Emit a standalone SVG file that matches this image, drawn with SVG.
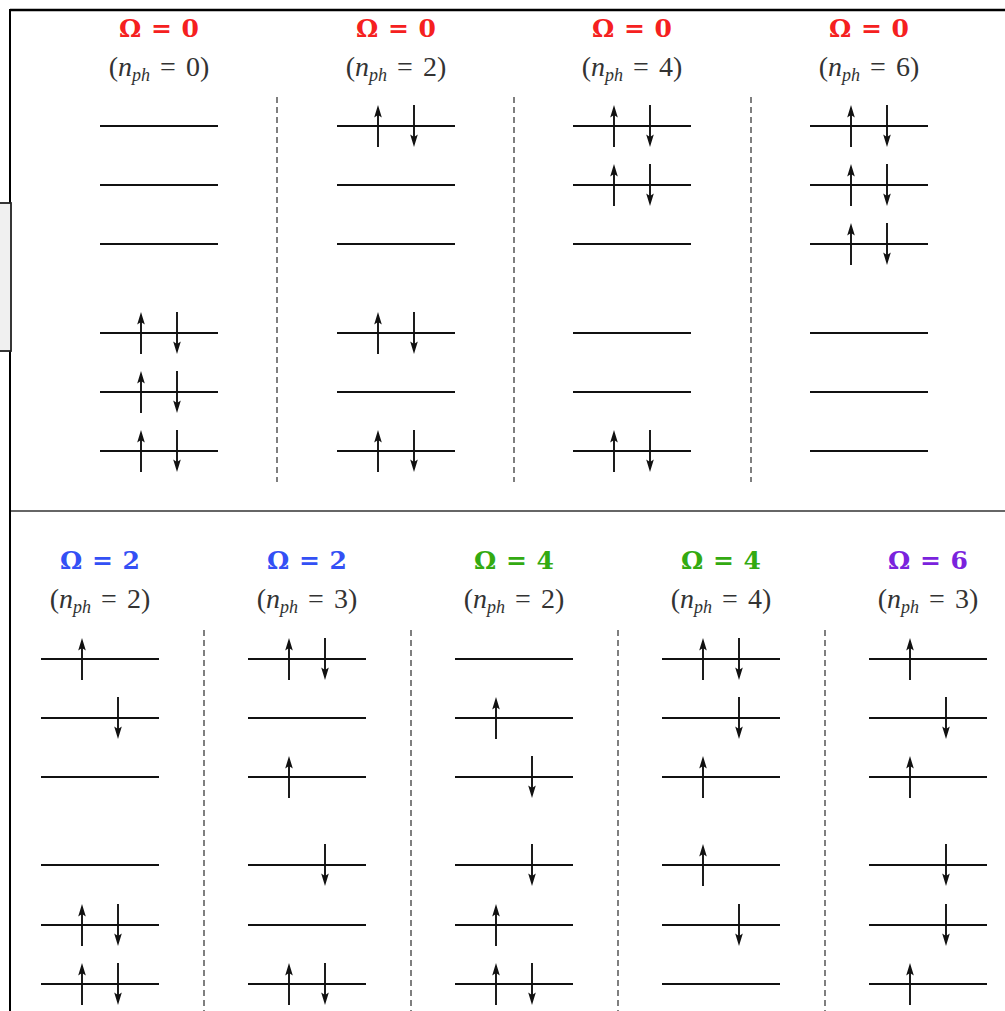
<svg xmlns="http://www.w3.org/2000/svg" xmlns:xlink="http://www.w3.org/1999/xlink" width="1005" height="1011" viewBox="0 0 1005 1011">
<style>
.lv{stroke:#111;stroke-width:2;fill:none}
.ar{stroke:#111;stroke-width:1.9;fill:none}
.hd{fill:#111;stroke:none}
.dv{stroke:#555;stroke-width:1.5;stroke-dasharray:6 4;fill:none}
.om{font-family:"DejaVu Serif","Liberation Serif",serif;font-weight:bold;font-size:25px;text-anchor:middle;word-spacing:1px}
.np{font-family:"Liberation Serif","DejaVu Serif",serif;font-size:28px;fill:#333;text-anchor:middle}
.it{font-style:italic}
.sb{font-style:italic;font-size:18px}
.red{fill:#f52020}.blue{fill:#3350f5}.green{fill:#33aa11}.purple{fill:#7a22dd}
</style>
<defs>
<g id="up"><line class="ar" x1="0" y1="21" x2="0" y2="-12"/><path class="hd" d="M0,-21 L-3.8,-8.5 L0,-11 L3.8,-8.5 Z"/></g>
<g id="dn"><line class="ar" x1="0" y1="-21" x2="0" y2="12"/><path class="hd" d="M0,21 L-3.8,8.5 L0,11 L3.8,8.5 Z"/></g>
<line id="lvl" class="lv" x1="-59" y1="0" x2="59" y2="0"/>
</defs>
<rect x="0" y="0" width="1005" height="1011" fill="#fff"/>
<g id="frame">
<line x1="10" y1="10" x2="1005" y2="10" stroke="#000" stroke-width="2.5"/>
<line x1="10" y1="9" x2="10" y2="1011" stroke="#000" stroke-width="2"/>
<rect x="-2" y="203" width="13" height="148" fill="#f0f0f0" stroke="#222" stroke-width="1.8"/>
<line x1="11" y1="511" x2="1005" y2="511" stroke="#666" stroke-width="2"/>
</g>
<g id="connectors">
<line class="dv" x1="277" y1="97" x2="277" y2="482"/>
<line class="dv" x1="514" y1="97" x2="514" y2="482"/>
<line class="dv" x1="751" y1="97" x2="751" y2="482"/>
<line class="dv" x1="204" y1="630" x2="204" y2="1011"/>
<line class="dv" x1="411" y1="630" x2="411" y2="1011"/>
<line class="dv" x1="618" y1="630" x2="618" y2="1011"/>
<line class="dv" x1="825" y1="630" x2="825" y2="1011"/>
</g>
<!-- top row -->
<g id="t1">
<text class="om red" x="159" y="37">Ω = 0</text>
<text class="np" x="159" y="76">(<tspan class="it">n</tspan><tspan class="sb" dy="5">ph</tspan><tspan dy="-5" dx="10">=</tspan><tspan dx="10">0)</tspan></text>
<use xlink:href="#lvl" x="159" y="126"/><use xlink:href="#lvl" x="159" y="185"/><use xlink:href="#lvl" x="159" y="244"/>
<use xlink:href="#lvl" x="159" y="333"/><use xlink:href="#lvl" x="159" y="392"/><use xlink:href="#lvl" x="159" y="451"/>
<use xlink:href="#up" x="141" y="333"/><use xlink:href="#dn" x="177" y="333"/>
<use xlink:href="#up" x="141" y="392"/><use xlink:href="#dn" x="177" y="392"/>
<use xlink:href="#up" x="141" y="451"/><use xlink:href="#dn" x="177" y="451"/>
</g>
<g id="t2">
<text class="om red" x="396" y="37">Ω = 0</text>
<text class="np" x="396" y="76">(<tspan class="it">n</tspan><tspan class="sb" dy="5">ph</tspan><tspan dy="-5" dx="10">=</tspan><tspan dx="10">2)</tspan></text>
<use xlink:href="#lvl" x="396" y="126"/><use xlink:href="#lvl" x="396" y="185"/><use xlink:href="#lvl" x="396" y="244"/>
<use xlink:href="#lvl" x="396" y="333"/><use xlink:href="#lvl" x="396" y="392"/><use xlink:href="#lvl" x="396" y="451"/>
<use xlink:href="#up" x="378" y="126"/><use xlink:href="#dn" x="414" y="126"/>
<use xlink:href="#up" x="378" y="333"/><use xlink:href="#dn" x="414" y="333"/>
<use xlink:href="#up" x="378" y="451"/><use xlink:href="#dn" x="414" y="451"/>
</g>
<g id="t3">
<text class="om red" x="632" y="37">Ω = 0</text>
<text class="np" x="632" y="76">(<tspan class="it">n</tspan><tspan class="sb" dy="5">ph</tspan><tspan dy="-5" dx="10">=</tspan><tspan dx="10">4)</tspan></text>
<use xlink:href="#lvl" x="632" y="126"/><use xlink:href="#lvl" x="632" y="185"/><use xlink:href="#lvl" x="632" y="244"/>
<use xlink:href="#lvl" x="632" y="333"/><use xlink:href="#lvl" x="632" y="392"/><use xlink:href="#lvl" x="632" y="451"/>
<use xlink:href="#up" x="614" y="126"/><use xlink:href="#dn" x="650" y="126"/>
<use xlink:href="#up" x="614" y="185"/><use xlink:href="#dn" x="650" y="185"/>
<use xlink:href="#up" x="614" y="451"/><use xlink:href="#dn" x="650" y="451"/>
</g>
<g id="t4">
<text class="om red" x="869" y="37">Ω = 0</text>
<text class="np" x="869" y="76">(<tspan class="it">n</tspan><tspan class="sb" dy="5">ph</tspan><tspan dy="-5" dx="10">=</tspan><tspan dx="10">6)</tspan></text>
<use xlink:href="#lvl" x="869" y="126"/><use xlink:href="#lvl" x="869" y="185"/><use xlink:href="#lvl" x="869" y="244"/>
<use xlink:href="#lvl" x="869" y="333"/><use xlink:href="#lvl" x="869" y="392"/><use xlink:href="#lvl" x="869" y="451"/>
<use xlink:href="#up" x="851" y="126"/><use xlink:href="#dn" x="887" y="126"/>
<use xlink:href="#up" x="851" y="185"/><use xlink:href="#dn" x="887" y="185"/>
<use xlink:href="#up" x="851" y="244"/><use xlink:href="#dn" x="887" y="244"/>
</g>
<!-- bottom row -->
<g id="b1">
<text class="om blue" x="100" y="569">Ω = 2</text>
<text class="np" x="100" y="608">(<tspan class="it">n</tspan><tspan class="sb" dy="5">ph</tspan><tspan dy="-5" dx="10">=</tspan><tspan dx="10">2)</tspan></text>
<use xlink:href="#lvl" x="100" y="659"/><use xlink:href="#lvl" x="100" y="718"/><use xlink:href="#lvl" x="100" y="777"/>
<use xlink:href="#lvl" x="100" y="865"/><use xlink:href="#lvl" x="100" y="925"/><use xlink:href="#lvl" x="100" y="984"/>
<use xlink:href="#up" x="82" y="659"/>
<use xlink:href="#dn" x="118" y="718"/>
<use xlink:href="#up" x="82" y="925"/><use xlink:href="#dn" x="118" y="925"/>
<use xlink:href="#up" x="82" y="984"/><use xlink:href="#dn" x="118" y="984"/>
</g>
<g id="b2">
<text class="om blue" x="307" y="569">Ω = 2</text>
<text class="np" x="307" y="608">(<tspan class="it">n</tspan><tspan class="sb" dy="5">ph</tspan><tspan dy="-5" dx="10">=</tspan><tspan dx="10">3)</tspan></text>
<use xlink:href="#lvl" x="307" y="659"/><use xlink:href="#lvl" x="307" y="718"/><use xlink:href="#lvl" x="307" y="777"/>
<use xlink:href="#lvl" x="307" y="865"/><use xlink:href="#lvl" x="307" y="925"/><use xlink:href="#lvl" x="307" y="984"/>
<use xlink:href="#up" x="289" y="659"/><use xlink:href="#dn" x="325" y="659"/>
<use xlink:href="#up" x="289" y="777"/>
<use xlink:href="#dn" x="325" y="865"/>
<use xlink:href="#up" x="289" y="984"/><use xlink:href="#dn" x="325" y="984"/>
</g>
<g id="b3">
<text class="om green" x="514" y="569">Ω = 4</text>
<text class="np" x="514" y="608">(<tspan class="it">n</tspan><tspan class="sb" dy="5">ph</tspan><tspan dy="-5" dx="10">=</tspan><tspan dx="10">2)</tspan></text>
<use xlink:href="#lvl" x="514" y="659"/><use xlink:href="#lvl" x="514" y="718"/><use xlink:href="#lvl" x="514" y="777"/>
<use xlink:href="#lvl" x="514" y="865"/><use xlink:href="#lvl" x="514" y="925"/><use xlink:href="#lvl" x="514" y="984"/>
<use xlink:href="#up" x="496" y="718"/>
<use xlink:href="#dn" x="532" y="777"/>
<use xlink:href="#dn" x="532" y="865"/>
<use xlink:href="#up" x="496" y="925"/>
<use xlink:href="#up" x="496" y="984"/><use xlink:href="#dn" x="532" y="984"/>
</g>
<g id="b4">
<text class="om green" x="721" y="569">Ω = 4</text>
<text class="np" x="721" y="608">(<tspan class="it">n</tspan><tspan class="sb" dy="5">ph</tspan><tspan dy="-5" dx="10">=</tspan><tspan dx="10">4)</tspan></text>
<use xlink:href="#lvl" x="721" y="659"/><use xlink:href="#lvl" x="721" y="718"/><use xlink:href="#lvl" x="721" y="777"/>
<use xlink:href="#lvl" x="721" y="865"/><use xlink:href="#lvl" x="721" y="925"/><use xlink:href="#lvl" x="721" y="984"/>
<use xlink:href="#up" x="703" y="659"/><use xlink:href="#dn" x="739" y="659"/>
<use xlink:href="#dn" x="739" y="718"/>
<use xlink:href="#up" x="703" y="777"/>
<use xlink:href="#up" x="703" y="865"/>
<use xlink:href="#dn" x="739" y="925"/>
</g>
<g id="b5">
<text class="om purple" x="928" y="569">Ω = 6</text>
<text class="np" x="928" y="608">(<tspan class="it">n</tspan><tspan class="sb" dy="5">ph</tspan><tspan dy="-5" dx="10">=</tspan><tspan dx="10">3)</tspan></text>
<use xlink:href="#lvl" x="928" y="659"/><use xlink:href="#lvl" x="928" y="718"/><use xlink:href="#lvl" x="928" y="777"/>
<use xlink:href="#lvl" x="928" y="865"/><use xlink:href="#lvl" x="928" y="925"/><use xlink:href="#lvl" x="928" y="984"/>
<use xlink:href="#up" x="910" y="659"/>
<use xlink:href="#dn" x="946" y="718"/>
<use xlink:href="#up" x="910" y="777"/>
<use xlink:href="#dn" x="946" y="865"/>
<use xlink:href="#dn" x="946" y="925"/>
<use xlink:href="#up" x="910" y="984"/>
</g>
</svg>
